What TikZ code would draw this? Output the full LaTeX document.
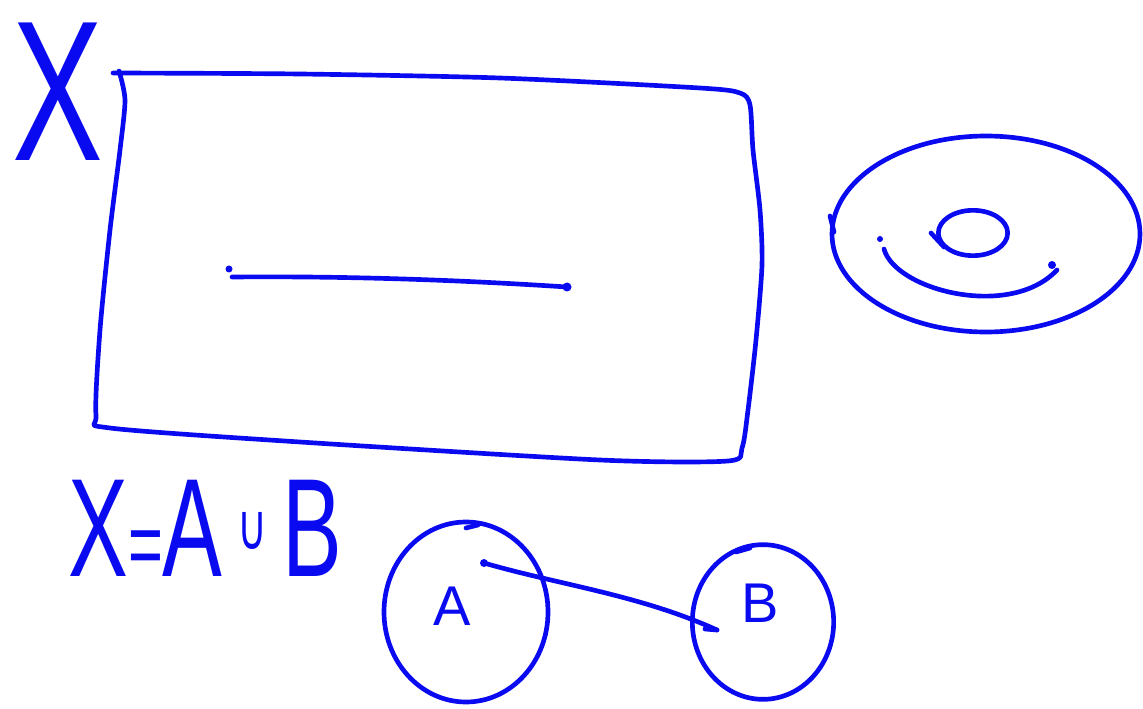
\documentclass[tikz,border=0pt]{standalone}
\usepackage{fontspec}
\setmainfont{Liberation Sans}
\newfontfamily\dejavu{DejaVu Sans}
\usetikzlibrary{shapes.geometric}
\definecolor{pen}{RGB}{10,10,240}
\begin{document}
\begin{tikzpicture}[x=0.75pt,y=-0.75pt,
  ink/.style={draw=pen,line width=3.5pt,line cap=round,line join=round},
  lab/.style={text=pen,inner sep=0pt,anchor=center},
  ring/.style={ink,ellipse,inner sep=0pt}]
\useasboundingbox (0,0) rectangle (1143,709);
% big X
\node[lab,font=\fontsize{150}{150}\selectfont] (xlab) at (58,92) {\scalebox{0.68}[1]{X}};
% rectangle
\draw[ink] plot[smooth,tension=0.45] coordinates {(113,73) (300,74) (500,78) (700,88) (740,93) (750,105) (753,150) (760,210) (762,265) (756,340) (748,410) (742,448) (728,461) (600,460) (300,442) (110,428) (96,415) (100,330) (110,230) (120,150) (125,100) (119,71)};
% inner segment
\coordinate (s1) at (229,269);
\coordinate (s2) at (567,287);
\fill[pen] (s1) circle (3.5);
\fill[pen] (s2) circle (4.5);
\draw[ink] (232,277) .. controls (350,276) and (460,280) .. (s2);
% right ellipse figure
\node[ring,minimum width=231pt,minimum height=147pt] (outer) at (986,234) {};
\draw[ink] (830,216) -- (834,232);
\node[ring,minimum width=52pt,minimum height=34pt] (inner) at (973,233) {};
\draw[ink] (931,233) -- (944,247);
\coordinate (d1) at (880,239);
\coordinate (d2) at (1052,265);
\fill[pen] (d1) circle (3);
\fill[pen] (d2) circle (4);
\draw[ink] (884,249) .. controls (895,290) and (1010,320) .. (1057,270);
% formula
\node[lab,font=\fontsize{105}{105}\selectfont,anchor=west] (formula) at (68,528)
  {\scalebox{0.64}[1]{X{\fontsize{70}{70}\selectfont=}A\,{\dejavu\fontsize{48}{48}\selectfont\raisebox{20pt}{∪}}\,B}};
% circles A and B
\node[ring,minimum width=123pt,minimum height=135pt] (ca) at (466,612) {};
\node[ring,minimum width=106pt,minimum height=116pt] (cb) at (763,622) {};
\draw[ink] (466,528) -- (478,525);
\draw[ink] (736,552) -- (750,548);
\node[lab,font=\fontsize{42}{42}\selectfont] (la) at (452,606) {A};
\node[lab,font=\fontsize{42}{42}\selectfont] (lb) at (760,603) {B};
\coordinate (pa) at (484,563);
\coordinate (pb) at (717,630);
\fill[pen] (pa) circle (4);
\draw[ink] (pa) .. controls (560,585) and (640,595) .. (pb);
\draw[ink] (pb) -- (705,629);
\end{tikzpicture}
\end{document}
